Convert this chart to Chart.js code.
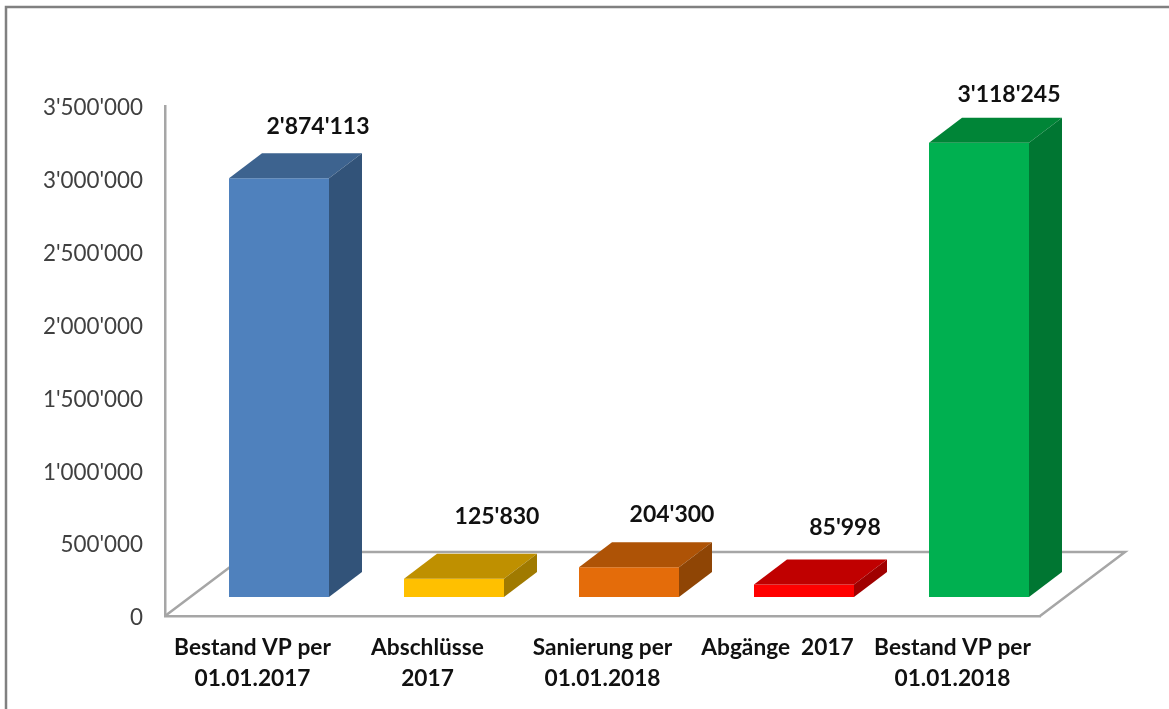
<!DOCTYPE html>
<html>
<head>
<meta charset="utf-8">
<script src="https://cdn.jsdelivr.net/npm/chart.js@4"></script>
<style>
  html, body { margin: 0; padding: 0; background: #fff; overflow: hidden; }
  canvas { display: block; }
</style>
</head>
<body>
<canvas id="myChart" width="1169" height="709"></canvas>
<script>
// Data
const categories = [
    ['Bestand VP per', '01.01.2017'],
    ['Abschlüsse', '2017'],
    ['Sanierung per', '01.01.2018'],
    ['Abgänge  2017'],
    ['Bestand VP per', '01.01.2018']
];
const values = [2874113, 125830, 204300, 85998, 3118245];

// Colours per bar
const frontColors = ['#4f81bd', '#ffc000', '#e46c0a', '#ff0000', '#00b050'];
const topColors = ['#3d638f', '#bf9000', '#ae5306', '#c00000', '#008537'];
const sideColors = ['#325379', '#a07a00', '#8f4505', '#a00000', '#007632'];

// Hand placed data labels, relative to the bar centre and the bar top
const labelDx = [39, 43, 43, 41, 30];
const labelDy = [-52, -62, -53, -57, -48];

const axisColor = '#a6a6a6';
const fontName = 'Lato, Carlito, sans-serif';

// Bars stand inside the floor, front face pushed this far back
const barShift = { x: 26.5, y: -19 };
const barDepth = { x: 33, y: -25 };
const floorDepth = { x: 85, y: -64 };

function formatNumber(v) {
    return String(v).replace(/\B(?=(\d{3})+(?!\d))/g, "'");
}

function polygon(ctx, pts, fill) {
    ctx.beginPath();
    ctx.moveTo(pts[0][0], pts[0][1]);
    pts.slice(1).forEach(p => ctx.lineTo(p[0], p[1]));
    ctx.closePath();
    ctx.fillStyle = fill;
    ctx.fill();
}

const fake3d = {
    id: 'fake3d',
    beforeDraw(chart) {
        // outer frame, runs off the right and bottom edge
        const ctx = chart.ctx;
        ctx.save();
        ctx.strokeStyle = '#808080';
        ctx.lineWidth = 2.5;
        ctx.strokeRect(6, 7, 1300, 800);
        ctx.restore();
    },
    beforeDatasetsDraw(chart) {
        const ctx = chart.ctx;
        const { left, right, bottom } = chart.chartArea;
        ctx.save();
        ctx.strokeStyle = axisColor;
        ctx.lineWidth = 2.5;
        ctx.beginPath();
        ctx.moveTo(left, bottom);
        ctx.lineTo(left + floorDepth.x, bottom + floorDepth.y);
        ctx.lineTo(right + floorDepth.x, bottom + floorDepth.y);
        ctx.lineTo(right, bottom);
        ctx.stroke();
        ctx.restore();
        ctx.save();
        ctx.translate(barShift.x, barShift.y);
    },
    afterDatasetsDraw(chart) {
        const ctx = chart.ctx;
        const bars = chart.getDatasetMeta(0).data;
        bars.forEach((bar, i) => {
            const l = bar.x - bar.width / 2;
            const r = bar.x + bar.width / 2;
            const t = bar.y;
            const b = bar.base;
            polygon(ctx, [[l, t], [r, t], [r + barDepth.x, t + barDepth.y], [l + barDepth.x, t + barDepth.y]], topColors[i]);
            polygon(ctx, [[r, t], [r + barDepth.x, t + barDepth.y], [r + barDepth.x, b + barDepth.y], [r, b]], sideColors[i]);
        });
        ctx.restore();

        // data labels
        ctx.save();
        ctx.font = 'bold 23px ' + fontName;
        ctx.fillStyle = '#111111';
        ctx.textAlign = 'center';
        ctx.textBaseline = 'middle';
        bars.forEach((bar, i) => {
            ctx.fillText(formatNumber(values[i]), bar.x + barShift.x + labelDx[i], bar.y + barShift.y + labelDy[i]);
        });
        ctx.restore();
    }
};

const ctx = document.getElementById('myChart').getContext('2d');
const myChart = new Chart(ctx, {
    type: 'bar',
    data: {
        labels: categories,
        datasets: [{
            data: values,
            backgroundColor: frontColors,
            barPercentage: 100 / 175,
            categoryPercentage: 1,
            clip: false
        }]
    },
    plugins: [fake3d],
    options: {
        responsive: false,
        animation: false,
        layout: {
            padding: { top: 106, right: 129, left: 0, bottom: 0 }
        },
        plugins: {
            legend: { display: false },
            tooltip: { enabled: false }
        },
        scales: {
            x: {
                grid: { display: false, drawTicks: false },
                border: { color: axisColor, width: 2.5 },
                ticks: {
                    color: '#111111',
                    font: { family: fontName, size: 22.7, weight: 'bold', lineHeight: 31 / 22.7 },
                    padding: 16,
                    maxRotation: 0,
                    autoSkip: false
                },
                afterFit(axis) { axis.height = 93; }
            },
            y: {
                min: 0,
                max: 3500000,
                grid: { display: false, drawTicks: false },
                border: { color: axisColor, width: 2.5 },
                ticks: {
                    stepSize: 500000,
                    color: '#404040',
                    font: { family: fontName, size: 22.4 },
                    padding: 22,
                    labelOffset: 2,
                    callback: v => formatNumber(v)
                },
                afterFit(axis) { axis.width = 165; }
            }
        }
    }
});
</script>
</body>
</html>
